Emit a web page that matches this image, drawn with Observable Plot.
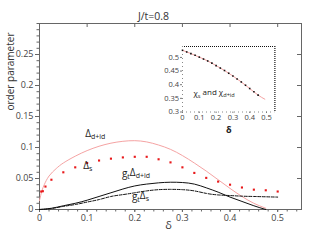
<!DOCTYPE html>
<html><head><meta charset="utf-8">
<script src="https://cdn.jsdelivr.net/npm/d3@7"></script>
<script src="https://cdn.jsdelivr.net/npm/@observablehq/plot@0.6"></script>
<style>
body{margin:0;background:#fff;}
#wrap{position:relative;width:309px;height:240px;font-family:"Open Sans",sans-serif;}
#inset{position:absolute;left:150px;top:36px;}
</style></head><body><div id="wrap"><div id="main"></div><div id="inset"></div></div>
<script>
// ---------- data ----------
const title = "J/t=0.8";
const xLabel = "δ";
const yLabel = "order parameter";
const xDomain = [0, 0.55];
const yDomain = [0, 0.3];
const xMajor = [0, 0.1, 0.2, 0.3, 0.4, 0.5];
const xMajorLabels = ["0", "0.1", "0.2", "0.3", "0.4", "0.5"];
const yMajor = [0, 0.05, 0.1, 0.15, 0.2, 0.25];
const yMajorLabels = ["0", "0.05", "0.1", "0.15", "0.2", "0.25"];

// Δ_{d+id} (pink line)
const dIdX = [0, 0.005, 0.01, 0.02, 0.035, 0.05, 0.075, 0.1, 0.125, 0.15, 0.175, 0.2, 0.225, 0.25, 0.275, 0.3, 0.325, 0.35, 0.375, 0.4, 0.425, 0.45, 0.475];
const dIdY = [0.0145, 0.03, 0.04, 0.054, 0.066, 0.075, 0.086, 0.095, 0.102, 0.107, 0.110, 0.111, 0.109, 0.104, 0.097, 0.087, 0.075, 0.062, 0.048, 0.034, 0.021, 0.010, 0.002];

// Δ_s (red dots)
const dsX = [0.0036, 0.007, 0.0125, 0.025, 0.05, 0.075, 0.1, 0.125, 0.15, 0.175, 0.2, 0.225, 0.25, 0.275, 0.3, 0.325, 0.35, 0.375, 0.4, 0.425, 0.45, 0.475, 0.5];
const dsY = [0.029, 0.0295, 0.037, 0.048, 0.060, 0.068, 0.075, 0.079, 0.082, 0.084, 0.085, 0.085, 0.081, 0.076, 0.068, 0.059, 0.051, 0.045, 0.040, 0.0355, 0.032, 0.031, 0.029];

// g_t Δ_{d+id} (black solid)
const gdX = [0, 0.025, 0.05, 0.075, 0.1, 0.125, 0.15, 0.175, 0.2, 0.225, 0.25, 0.275, 0.3, 0.325, 0.35, 0.375, 0.4, 0.425, 0.45, 0.475];
const gdY = [0, 0.002, 0.006, 0.010, 0.015, 0.021, 0.027, 0.033, 0.038, 0.041, 0.043, 0.044, 0.0435, 0.041, 0.035, 0.028, 0.020, 0.013, 0.006, 0.0];

// g_t Δ_s (black dashed)
const gsX = [0, 0.025, 0.05, 0.075, 0.1, 0.125, 0.15, 0.175, 0.2, 0.225, 0.25, 0.275, 0.3, 0.325, 0.35, 0.375, 0.4, 0.425, 0.45, 0.475, 0.5];
const gsY = [0, 0.0015, 0.005, 0.008, 0.012, 0.016, 0.021, 0.024, 0.027, 0.030, 0.032, 0.0325, 0.032, 0.030, 0.026, 0.0235, 0.0225, 0.0215, 0.021, 0.0205, 0.020];

// curve labels
const labTexts = ["Δ{d+id}", "Δ{s}", "g{t}Δ{d+id}", "g{t}Δ{s}"];
const labX = [0.096, 0.092, 0.173, 0.194];
const labY = [0.1226, 0.071, 0.058, 0.021];

// inset
const insetXDomain = [0, 0.55];
const insetYDomain = [0.3, 0.54];
const insetXTicks = [0, 0.1, 0.2, 0.3, 0.4, 0.5];
const insetXLabels = ["0", "0.1", "0.2", "0.3", "0.4", "0.5"];
const insetYTicks = [0.3, 0.35, 0.4, 0.45, 0.5];
const insetYLabels = ["0.3", "0.35", "0.4", "0.45", "0.5"];
const chiX = [0, 0.025, 0.05, 0.075, 0.1, 0.125, 0.15, 0.175, 0.2, 0.225, 0.25, 0.275, 0.3, 0.325, 0.35, 0.375, 0.4, 0.425, 0.45];
const chiS = [0.526, 0.520, 0.514, 0.508, 0.501, 0.494, 0.487, 0.479, 0.470, 0.461, 0.452, 0.442, 0.432, 0.421, 0.410, 0.398, 0.386, 0.374, 0.362];
const chiLineX = [0, 0.05, 0.1, 0.15, 0.2, 0.25, 0.3, 0.35, 0.4, 0.45, 0.49];
const chiLineY = [0.526, 0.514, 0.501, 0.487, 0.470, 0.452, 0.432, 0.410, 0.386, 0.362, 0.347];
const chiLabel = "χ{s} and χ{d+id}";
const chiLabelPos = [0.065, 0.368];

// ---------- helpers ----------
const zipXY = (xs, ys) => xs.map((x, i) => ({x, y: ys[i]}));
function subs(svg) {
  svg.querySelectorAll("text").forEach(t => {
    const s = t.textContent;
    if (!s.includes("{")) return;
    t.textContent = "";
    let shifted = false;
    s.split(/(\{[^}]*\})/).forEach(p => {
      if (!p) return;
      const ts = document.createElementNS("http://www.w3.org/2000/svg", "tspan");
      if (p[0] === "{") {
        ts.textContent = p.slice(1, -1);
        ts.setAttribute("style", "font-size:70%");
        ts.setAttribute("dy", "0.3em");
        shifted = true;
      } else {
        ts.textContent = p;
        if (shifted) { ts.setAttribute("dy", "-0.3em"); shifted = false; }
      }
      t.appendChild(ts);
    });
  });
}

// ---------- main ----------
const W = 309, H = 240, mL = 39, mR = 8, mT = 23, mB = 31;
const pw = W - mL - mR, ph = H - mT - mB;
const xMinor = d3.range(0, 0.5401, 0.02).map(v => +v.toFixed(3));
const yMinor = d3.range(0, 0.3001, 0.01).map(v => +v.toFixed(3));
const axisColor = "#666";

const main = Plot.plot({
  width: W, height: H,
  marginLeft: mL, marginRight: mR, marginTop: mT, marginBottom: mB,
  style: {fontFamily: "'Open Sans', sans-serif", fontSize: "9px", color: "#444", background: "#fff", overflow: "visible"},
  x: {domain: xDomain},
  y: {domain: yDomain},
  marks: [
    Plot.axisY(yMinor, {tickSize: 2.5, tickFormat: () => "", stroke: axisColor, label: null}),
    Plot.axisY(yMajor, {tickSize: 4, tickPadding: 2, tickFormat: d => yMajorLabels[yMajor.indexOf(d)], stroke: axisColor, label: null}),
    Plot.axisX(xMinor, {tickSize: 2.5, tickFormat: () => "", stroke: axisColor, label: null}),
    Plot.axisX(xMajor, {tickSize: 3, tickPadding: 2, tickFormat: d => xMajorLabels[xMajor.indexOf(d)], stroke: axisColor, label: null}),
    Plot.tickY(yMajor, {y: d => d, insetLeft: pw - 4, stroke: axisColor}),
    Plot.tickX(xMajor, {x: d => d, insetBottom: ph - 4, stroke: axisColor}),
    Plot.frame({stroke: axisColor}),
    Plot.line(zipXY(dIdX, dIdY), {x: "x", y: "y", stroke: "#f5a3a3", strokeWidth: 1, curve: "natural"}),
    Plot.line(zipXY(gdX, gdY), {x: "x", y: "y", stroke: "#111", strokeWidth: 1, curve: "natural"}),
    Plot.line(zipXY(gsX, gsY), {x: "x", y: "y", stroke: "#111", strokeWidth: 1, strokeDasharray: "3,1.5", curve: "natural"}),
    Plot.dot(zipXY(dsX, dsY), {x: "x", y: "y", symbol: "square", r: 1.2, fill: "#e8191b", stroke: null}),
    Plot.text(labTexts, {x: labX, y: labY, text: d => d, textAnchor: "start", fontSize: 10, fill: "#222"}),
    Plot.text([title], {frameAnchor: "top", dy: -11, dx: -17, fontSize: 10.5, fill: "#333"}),
    Plot.text([yLabel], {frameAnchor: "left", rotate: -90, dx: -29, dy: -6, fontSize: 10, fill: "#333"}),
    Plot.text([xLabel], {frameAnchor: "bottom", dy: 19, dx: -2, fontSize: 11, fill: "#333"})
  ]
});
subs(main);
document.getElementById("main").appendChild(main);

// ---------- inset ----------
const iW = 140, iH = 100, iL = 32, iR = 15.6, iT = 10, iB = 24.5;
const inset = Plot.plot({
  width: iW, height: iH,
  marginLeft: iL, marginRight: iR, marginTop: iT, marginBottom: iB,
  style: {fontFamily: "'Open Sans', sans-serif", fontSize: "7.5px", color: "#444", background: "transparent", overflow: "visible"},
  x: {domain: insetXDomain},
  y: {domain: insetYDomain},
  marks: [
    Plot.ruleY([insetYDomain[1]], {stroke: "#111", strokeWidth: 1.2, strokeDasharray: "1,1"}),
    Plot.ruleX([insetXDomain[1]], {stroke: "#111", strokeWidth: 1.2, strokeDasharray: "1,1"}),
    Plot.ruleY([insetYDomain[0]], {stroke: "#888", strokeDasharray: "1,3"}),
    Plot.ruleX([insetXDomain[0]], {stroke: "#888", strokeDasharray: "1,3"}),
    Plot.axisY(insetYTicks, {tickSize: 2, tickPadding: 1.5, tickFormat: d => insetYLabels[insetYTicks.indexOf(d)], stroke: "#777", label: null}),
    Plot.axisX(insetXTicks, {tickSize: 1.5, tickPadding: 1.5, tickFormat: d => insetXLabels[insetXTicks.indexOf(d)], stroke: "#777", label: null}),
    Plot.line(zipXY(chiLineX, chiLineY), {x: "x", y: "y", stroke: "#f5a3a3", strokeWidth: 1, curve: "natural"}),
    Plot.dot(zipXY(chiX, chiS), {x: "x", y: "y", symbol: "square", r: 0.9, fill: "#111", stroke: null}),
    Plot.text([chiLabel], {x: [chiLabelPos[0]], y: [chiLabelPos[1]], text: d => d, textAnchor: "start", fontSize: 8, fill: "#222"}),
    Plot.text(["δ"], {frameAnchor: "bottom", dy: 21, fontSize: 9, fontWeight: "bold", fill: "#222"})
  ]
});
subs(inset);
document.getElementById("inset").appendChild(inset);
</script>
</body></html>
